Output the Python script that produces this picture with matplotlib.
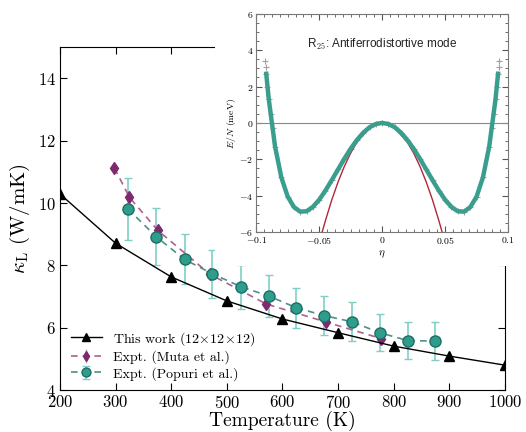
import matplotlib
matplotlib.use('Agg')
import matplotlib.pyplot as plt
from matplotlib.patches import Rectangle
from matplotlib.ticker import AutoMinorLocator, MultipleLocator

plt.rcParams['font.family'] = 'serif'
plt.rcParams['font.serif'] = ['cmr10', 'DejaVu Serif']
plt.rcParams['mathtext.fontset'] = 'cm'
plt.rcParams['axes.formatter.use_mathtext'] = True
plt.rcParams['axes.unicode_minus'] = True

# main panel data
t_this = [200, 300, 400, 500, 600, 700, 800, 900, 1000]
k_this = [10.29, 8.71, 7.63, 6.86, 6.28, 5.84, 5.41, 5.09, 4.80]

t_muta = [298, 325, 376, 470, 571, 679, 778]
k_muta = [11.12, 10.18, 9.12, 7.71, 6.76, 6.18, 5.65]
e_muta = [0.15, 0.15, 0.13, 0.12, 0.1, 0.1, 0.1]

t_popuri = [322, 373, 424, 474, 526, 575, 625, 675, 725, 775, 825, 875]
k_popuri = [9.81, 8.92, 8.19, 7.73, 7.31, 7.02, 6.64, 6.39, 6.19, 5.84, 5.59, 5.57]
e_popuri = [1.0, 0.92, 0.8, 0.77, 0.7, 0.66, 0.65, 0.62, 0.62, 0.6, 0.6, 0.6]

# inset data
eta = [-0.092, -0.09, -0.0875, -0.085, -0.08, -0.075, -0.07, -0.065, -0.06, -0.055,
       -0.05, -0.045, -0.04, -0.035, -0.03, -0.025, -0.02, -0.015, -0.01, -0.005,
       0.0, 0.005, 0.01, 0.015, 0.02, 0.025, 0.03, 0.035, 0.04, 0.045,
       0.05, 0.055, 0.06, 0.065, 0.07, 0.075, 0.08, 0.085, 0.0875, 0.09, 0.092]
e_fit = [2.7, 1.3, 0.0, -1.3, -3.0, -4.05, -4.63, -4.88, -4.86, -4.62,
         -4.23, -3.72, -3.15, -2.56, -1.97, -1.42, -0.94, -0.54, -0.24, -0.06,
         0.0, -0.06, -0.24, -0.54, -0.94, -1.42, -1.97, -2.56, -3.15, -3.72,
         -4.23, -4.62, -4.86, -4.88, -4.63, -4.05, -3.0, -1.3, 0.0, 1.3, 2.7]
eta_dft = [-0.093, -0.0925, -0.092, -0.091, -0.09, -0.0885, -0.087, -0.085, -0.08, -0.075,
           -0.07, -0.065, -0.06, -0.055, -0.05, -0.045, -0.04, -0.035, -0.03, -0.025,
           -0.02, -0.015, -0.01, -0.005, 0.0, 0.005, 0.01, 0.015, 0.02, 0.025,
           0.03, 0.035, 0.04, 0.045, 0.05, 0.055, 0.06, 0.065, 0.07, 0.075,
           0.08, 0.085, 0.087, 0.0885, 0.09, 0.091, 0.092, 0.0925, 0.093]
e_dft = [3.4, 3.1, 2.7, 2.0, 1.3, 0.5, -0.3, -1.3, -3.0, -4.05,
         -4.63, -4.88, -4.86, -4.62, -4.23, -3.72, -3.15, -2.56, -1.97, -1.42,
         -0.94, -0.54, -0.24, -0.06, 0.0, -0.06, -0.24, -0.54, -0.94, -1.42,
         -1.97, -2.56, -3.15, -3.72, -4.23, -4.62, -4.86, -4.88, -4.63, -4.05,
         -3.0, -1.3, -0.3, 0.5, 1.3, 2.0, 2.7, 3.1, 3.4]
eta_harm = [-0.0476, -0.045, -0.04, -0.035, -0.03, -0.025, -0.02, -0.01, 0.0,
            0.01, 0.02, 0.025, 0.03, 0.035, 0.04, 0.045, 0.0476]
e_harm = [-6.0, -5.37, -4.24, -3.25, -2.39, -1.66, -1.06, -0.27, 0.0,
          -0.27, -1.06, -1.66, -2.39, -3.25, -4.24, -5.37, -6.0]

teal = '#2f9d8c'
purple = '#7d2a6e'

fig = plt.figure(figsize=(5.26, 4.32), dpi=100)
ax = fig.add_axes([0.114, 0.097, 0.846, 0.794])

ax.plot(t_this, k_this, '-', color='black', lw=1.0, marker='^', ms=7,
        label=r'This work $(12\!\times\!12\!\times\!12)$', zorder=4)
ax.errorbar(t_muta, k_muta, yerr=e_muta, fmt='d', ls=(0, (4, 3)), color='#b0608f',
            mfc=purple, mec=purple, ms=6.5, ecolor='#d9a3c6', elinewidth=1.0,
            capsize=0, lw=1.2, label='Expt. (Muta et al.)', zorder=3)
ax.errorbar(t_popuri, k_popuri, yerr=e_popuri, fmt='o', ls=(0, (4, 3)), color='#4f8f8a',
            mfc=teal, mec='#1d6e64', ms=8, ecolor='#7fcfc6', elinewidth=1.2,
            capsize=3, capthick=1.0, lw=1.2, label='Expt. (Popuri et al.)', zorder=3)

ax.set_xlim(200, 1000)
ax.set_ylim(4, 15)
ax.xaxis.set_major_locator(MultipleLocator(100))
ax.yaxis.set_major_locator(MultipleLocator(2))
ax.tick_params(direction='in', top=True, right=True, labelsize=12, length=5, pad=3)
ax.set_xlabel('Temperature (K)', fontsize=14, labelpad=0)
ax.set_ylabel(r'$\kappa_{\rm L}$ (W/mK)', fontsize=15, labelpad=4)
ax.legend(loc='lower left', bbox_to_anchor=(0.0, -0.005), frameon=False, fontsize=10,
          handlelength=2.2, labelspacing=0.2, borderpad=0.3, markerscale=0.8)

# white block under the inset
fig.add_artist(Rectangle((0.408, 0.385), 0.6, 0.62, transform=fig.transFigure,
                         facecolor='white', edgecolor='none', zorder=1))

ins = fig.add_axes([0.487, 0.463, 0.479, 0.505])
ins.set_zorder(2)
ins.axhline(0, color='#8a8a8a', lw=0.8)
ins.plot(eta_dft, e_dft, '+', color='#a0a0a0', ms=4, mew=0.8)
ins.plot(eta_harm, e_harm, '-', color='#b3263a', lw=1.0)
ins.plot(eta, e_fit, '-', color='#3a9e8e', lw=3.2)
ins.set_xlim(-0.1, 0.1)
ins.set_ylim(-6, 6)
ins.xaxis.set_major_locator(MultipleLocator(0.05))
ins.yaxis.set_major_locator(MultipleLocator(2))
ins.xaxis.set_minor_locator(AutoMinorLocator(8))
ins.yaxis.set_minor_locator(AutoMinorLocator(4))
ins.tick_params(which='both', direction='in', top=True, right=True, labelsize=7,
                color='#555555')
ins.tick_params(which='major', length=4, pad=2)
ins.tick_params(which='minor', length=2)
ins.set_xticklabels(['', '$-0.1$', '$-0.05$', '$0$', '$0.05$', '$0.1$'])
for s in ins.spines.values():
    s.set_color('#777777')
    s.set_linewidth(0.8)
ins.set_xlabel(r'$\eta$', fontsize=8, labelpad=2)
ins.set_ylabel(r'$E/N$ (meV)', fontsize=7, labelpad=1)
ins.text(0.5, 0.86, r'R$_{25}$: Antiferrodistortive mode', transform=ins.transAxes,
         ha='center', va='center', fontsize=8.5, family='Liberation Sans', color='#222222')

fig.savefig('out.png', dpi=100)
